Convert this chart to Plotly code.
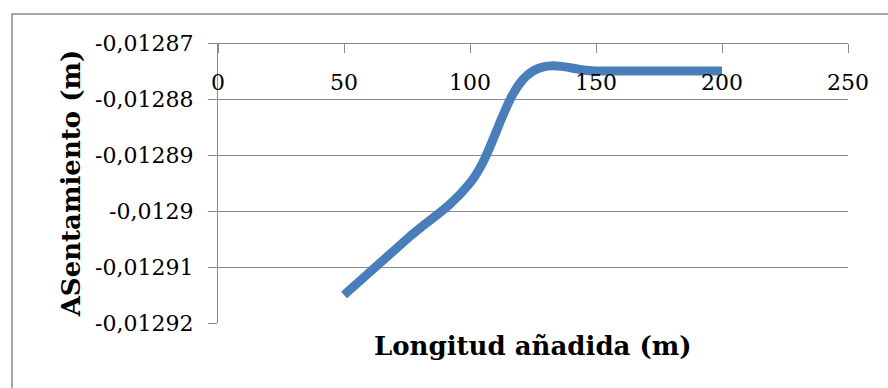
import plotly.graph_objects as go

# Settlement versus added length
longitud = [50, 75, 100, 125, 150, 175, 200]
asentamiento = [-0.012915, -0.012905, -0.012895, -0.012875, -0.012875, -0.012875, -0.012875]

x_ticks = [0, 50, 100, 150, 200, 250]
y_ticks = [-0.01287, -0.01288, -0.01289, -0.0129, -0.01291, -0.01292]
y_tick_text = ["-0,01287", "-0,01288", "-0,01289", "-0,0129", "-0,01291", "-0,01292"]

GRID = "#8a8a8a"
LINE_BLUE = "#4a7ebb"
FONT = "DejaVu Serif"

fig = go.Figure()
fig.add_trace(go.Scatter(
    x=longitud, y=asentamiento, mode="lines",
    line=dict(color=LINE_BLUE, width=9, shape="spline", smoothing=1.1),
    hoverinfo="skip", showlegend=False,
))

fig.update_layout(
    width=888, height=388, autosize=False,
    margin=dict(l=218, r=40, t=43, b=65),
    paper_bgcolor="white", plot_bgcolor="white",
    font=dict(family=FONT, color="black", size=22),
    separators=", ",
    xaxis=dict(
        range=[0, 250], tickvals=x_ticks, ticktext=[str(v) for v in x_ticks],
        anchor="free", position=1, side="bottom",
        showline=True, linecolor=GRID, linewidth=1.3,
        ticks="outside", ticklen=9, tickcolor=GRID, tickwidth=1.3,
        showgrid=False, zeroline=False,
        ticklabelstandoff=10,
        tickfont=dict(family=FONT, size=22),
    ),
    yaxis=dict(
        range=[-0.01292, -0.01287], tickvals=y_ticks, ticktext=y_tick_text,
        showline=True, linecolor=GRID, linewidth=1.3,
        ticks="outside", ticklen=9, tickcolor=GRID, tickwidth=1.3,
        showgrid=True, gridcolor=GRID, gridwidth=1.3, zeroline=False,
        ticklabelstandoff=10,
        tickfont=dict(family=FONT, size=22),
        title=dict(text="<b>ASentamiento (m)</b>", standoff=6,
                   font=dict(family=FONT, size=26)),
    ),
    annotations=[dict(
        text="<b>Longitud añadida (m)</b>", xref="paper", yref="paper",
        x=0.5, y=-0.02, xanchor="center", yanchor="top", showarrow=False,
        font=dict(family=FONT, size=26, color="black"),
    )],
    shapes=[dict(
        type="rect", xref="paper", yref="paper",
        x0=-0.327, x1=1.08, y0=-0.25, y1=1.1036,
        line=dict(color=GRID, width=1.5), layer="below",
    )],
)

fig.write_html("out.html")
